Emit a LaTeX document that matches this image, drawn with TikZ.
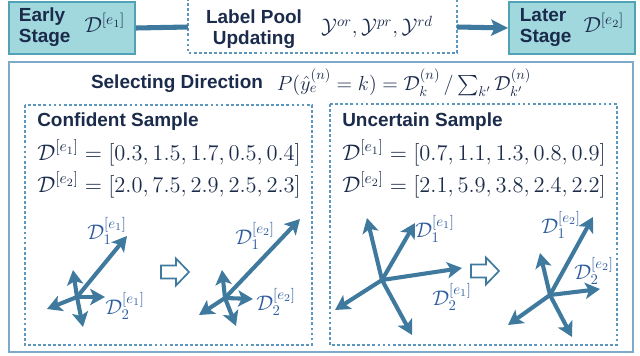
\RequirePackage{fix-cm}
\documentclass[tikz,border=0pt]{standalone}
\usepackage{amsmath}
\usepackage{fontspec}
\setsansfont{Liberation Sans}
\usetikzlibrary{arrows.meta, positioning}
\definecolor{Navy}  {HTML}{1B2B4B}
\definecolor{Teal}  {HTML}{4FA3B5}
\definecolor{TealF} {HTML}{A0D8DE}
\definecolor{Steel} {HTML}{3F7A9E}
\definecolor{Frame} {HTML}{7FA9C9}
\definecolor{Dash}  {HTML}{5C97C0}
\definecolor{LblB}  {HTML}{2E5C9E}
\newcommand{\boxmath}[1]{{\fontsize{15.5}{17}\selectfont$#1$}}
\tikzset{
  stage/.style={
    rectangle, draw=Teal, fill=TealF, text=Navy,
    line width=1.3pt, inner sep=0pt,
    minimum width=3.15cm, minimum height=1.32cm,
    font=\sffamily\bfseries\fontsize{13.5}{15}\selectfont,
  },
  dbox/.style={
    draw=Dash, line width=0.9pt, dash pattern=on 2pt off 1.6pt,
  },
  hd/.style={
    text=Navy, inner sep=0pt,
    font=\sffamily\bfseries\fontsize{13.5}{15}\selectfont,
  },
  eq/.style={
    text=Navy, inner sep=0pt, font=\fontsize{16}{18}\selectfont,
  },
  lbl/.style={
    text=LblB, inner sep=0pt, font=\fontsize{15}{17}\selectfont,
  },
  vec/.style={
    -{Stealth[length=10.5pt,width=11.5pt,inset=2.5pt]},
    line width=2.9pt, color=Steel,
  },
  flow/.style={
    -{Stealth[length=12pt,width=11.5pt,inset=2.5pt]},
    line width=3.6pt, color=Steel,
  },
  hollow/.style={
    draw=Steel, fill=white, line width=1.2pt, line join=miter,
  },
}
\begin{document}
\begin{tikzpicture}[x=0.025cm,y=-0.025cm]
  \useasboundingbox (0,0) rectangle (640,356);

  % top row
  \node[stage] (early) at (72,28)
    {\begin{tabular}{@{}l@{}}Early\\Stage\end{tabular}\hspace{0.35cm}%
     \boxmath{\mathcal{D}^{[e_1]}}};
  \draw[dbox] (188,-2) rectangle (457,53);
  \coordinate (poolW) at (188,27);
  \coordinate (poolE) at (457,27);
  \node[hd, align=center] (poolT) at (254,29) {Label Pool\\Updating};
  \node[text=Navy, inner sep=0pt, font=\fontsize{15}{17}\selectfont]
    (poolY) at (377,27) {$\mathcal{Y}^{or}, \mathcal{Y}^{pr}, \mathcal{Y}^{rd}$};
  \node[stage] (later) at (572,28)
    {\begin{tabular}{@{}l@{}}Later\\Stage\end{tabular}\hspace{0.3cm}%
     \boxmath{\mathcal{D}^{[e_2]}}};
  \draw[Steel, line width=3.6pt] (early.east) -- (poolW);
  \draw[flow] (poolE) -- (later.west);

  % selecting direction
  \draw[Frame, line width=1.4pt] (9,62) rectangle (633,352);
  \node[hd] (selT) at (177,84) {Selecting Direction};
  \node[text=Navy, inner sep=0pt, font=\fontsize{14.5}{16}\selectfont]
    (selF) at (404,83)
    {$P(\hat{y}_e^{(n)} = k) = \mathcal{D}_k^{(n)} \,/ \sum_{k'} \mathcal{D}_{k'}^{(n)}$};

  \draw[dbox] (25,105) rectangle (312,345);
  \draw[dbox] (330,104) rectangle (617,345);

  \node[hd, anchor=base west] (confT) at (37,126) {Confident Sample};
  \node[eq, anchor=base west] (confA) at (37,160)
    {$\mathcal{D}^{[e_1]} = [0.3, 1.5, 1.7, 0.5, 0.4]$};
  \node[eq, anchor=base west] (confB) at (37,192)
    {$\mathcal{D}^{[e_2]} = [2.0, 7.5, 2.9, 2.5, 2.3]$};

  \node[hd, anchor=base west] (uncT) at (342,126) {Uncertain Sample};
  \node[eq, anchor=base west] (uncA) at (342,160)
    {$\mathcal{D}^{[e_1]} = [0.7, 1.1, 1.3, 0.8, 0.9]$};
  \node[eq, anchor=base west] (uncB) at (342,192)
    {$\mathcal{D}^{[e_2]} = [2.1, 5.9, 3.8, 2.4, 2.2]$};

  % direction vectors
  \coordinate (cA) at (77,297);
  \coordinate (cA1) at (127,236); \coordinate (cA2) at (73,270);
  \coordinate (cA3) at (105,297); \coordinate (cA4) at (83,327);
  \coordinate (cA5) at (47,309);
  \coordinate (cB) at (225,298);
  \coordinate (cB1) at (300,219); \coordinate (cB2) at (222,270);
  \coordinate (cB3) at (253,299); \coordinate (cB4) at (236,326);
  \coordinate (cB5) at (199,315);
  \coordinate (uA) at (382,280);
  \coordinate (uA1) at (415,223); \coordinate (uA2) at (367,218);
  \coordinate (uA3) at (462,268); \coordinate (uA4) at (412,335);
  \coordinate (uA5) at (335,310);
  \coordinate (uB) at (550,295);
  \coordinate (uB1) at (593,217); \coordinate (uB2) at (540,253);
  \coordinate (uB3) at (600,289); \coordinate (uB4) at (572,337);
  \coordinate (uB5) at (508,325);
  \foreach \c in {cA,cB,uA,uB}
    \foreach \i in {1,...,5}
      \draw[vec] (\c) -- (\c\i);

  % hollow step arrows
  \foreach \x/\y in {161/272, 471/271}
    \draw[hollow] (\x,\y) ++(0,-6.5) -- ++(15,0) -- ++(0,-7) -- ++(13,13.5)
      -- ++(-13,13.5) -- ++(0,-7) -- ++(-15,0) -- cycle;

  \node[lbl] (lA1) at (107,231) {$\mathcal{D}_1^{[e_1]}$};
  \node[lbl] (lA2) at (125,306) {$\mathcal{D}_2^{[e_1]}$};
  \node[lbl] (lB1) at (255,236) {$\mathcal{D}_1^{[e_2]}$};
  \node[lbl] (lB2) at (276,302) {$\mathcal{D}_2^{[e_2]}$};
  \node[lbl] (lC1) at (435,229) {$\mathcal{D}_1^{[e_1]}$};
  \node[lbl] (lC2) at (452,297) {$\mathcal{D}_2^{[e_1]}$};
  \node[lbl] (lD1) at (561,225) {$\mathcal{D}_1^{[e_2]}$};
  \node[lbl] (lD2) at (594,271) {$\mathcal{D}_2^{[e_2]}$};
\end{tikzpicture}
\end{document}
